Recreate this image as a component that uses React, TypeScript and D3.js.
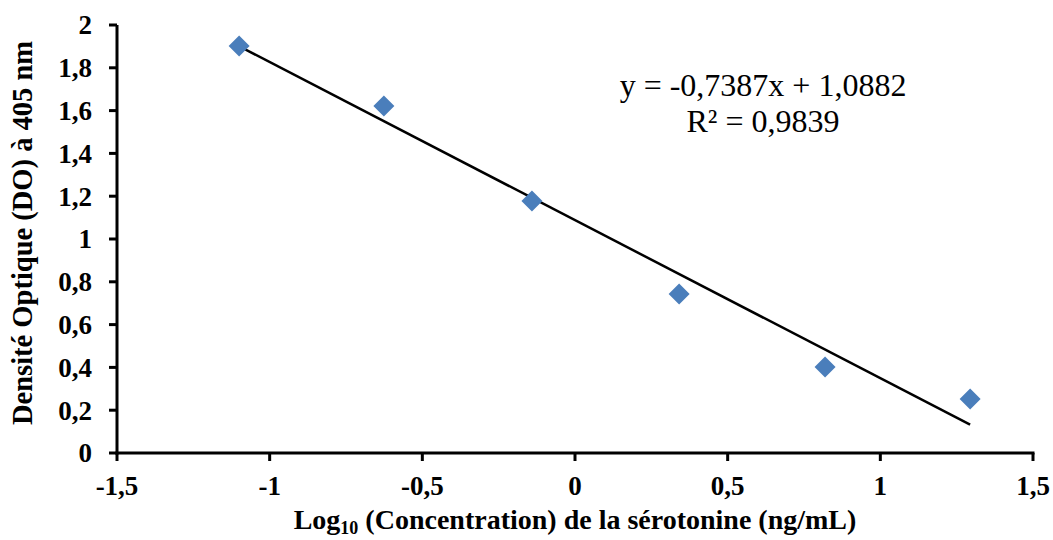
import React from "react";
import * as d3 from "d3";

const xValues = [-1.1, -0.626, -0.141, 0.341, 0.819, 1.294];
const yValues = [1.902, 1.621, 1.178, 0.743, 0.402, 0.252];
const xTicks = [-1.5, -1, -0.5, 0, 0.5, 1, 1.5];
const yTicks = [0, 0.2, 0.4, 0.6, 0.8, 1, 1.2, 1.4, 1.6, 1.8, 2];
const slope = -0.7387;
const intercept = 1.0882;
const equationText = "y = -0,7387x + 1,0882";
const r2Text = "R² = 0,9839";
const xTitleMain = "Log";
const xTitleSub = "10";
const xTitleRest = " (Concentration) de la sérotonine (ng/mL)";
const yTitle = "Densité Optique (DO) à 405 nm";

const fmt = (v: number) => String(v).replace(".", ",");

const font = "'Liberation Serif', 'Times New Roman', serif";
const bold = (size: number): React.CSSProperties => ({ fontFamily: font, fontWeight: 700, fontSize: `${size}px` });
const reg = (size: number): React.CSSProperties => ({ fontFamily: font, fontWeight: 400, fontSize: `${size}px` });

export default function App() {
  const W = 1053, H = 540;
  const x = d3.scaleLinear().domain([-1.5, 1.5]).range([117, 1033]);
  const y = d3.scaleLinear().domain([0, 2]).range([453, 25]);
  const xMin = d3.min(xValues)!, xMax = d3.max(xValues)!;
  const d = 10.5;
  return (
    <svg width={W} height={H} style={{ position: "absolute", left: 0, top: 0, background: "#fff" }}>
      <line x1={x(xMin)} y1={y(slope * xMin + intercept)} x2={x(xMax)} y2={y(slope * xMax + intercept)} stroke="#000" strokeWidth={2.5} />
      {xValues.map((v, i) => {
        const cx = x(v), cy = y(yValues[i]);
        return <path key={i} d={`M${cx},${cy - d}L${cx + d},${cy}L${cx},${cy + d}L${cx - d},${cy}Z`} fill="#4A7EBB" />;
      })}
      <line x1={x(-1.5)} y1={y(2)} x2={x(-1.5)} y2={y(0) + 1.5} stroke="#000" strokeWidth={3} />
      <line x1={x(-1.5) - 1.5} y1={y(0)} x2={x(1.5) + 1.5} y2={y(0)} stroke="#000" strokeWidth={3} />
      {yTicks.map((t) => (
        <g key={t}>
          <line x1={x(-1.5) - 8} x2={x(-1.5)} y1={y(t)} y2={y(t)} stroke="#000" strokeWidth={3} />
          <text x={92} y={y(t)} dy="0.35em" textAnchor="end" style={bold(27)}>{fmt(t)}</text>
        </g>
      ))}
      {xTicks.map((t) => (
        <g key={t}>
          <line x1={x(t)} x2={x(t)} y1={y(0)} y2={y(0) + 8} stroke="#000" strokeWidth={3} />
          <text x={x(t)} y={495} textAnchor="middle" style={bold(27)}>{fmt(t)}</text>
        </g>
      ))}
      <text x={575} y={529} textAnchor="middle" style={bold(28)}>
        {xTitleMain}
        <tspan style={{ fontSize: "18px" }} dy={5}>{xTitleSub}</tspan>
        <tspan dy={-5}>{xTitleRest}</tspan>
      </text>
      <text transform={`translate(32,233) rotate(-90)`} textAnchor="middle" style={bold(28.5)}>{yTitle}</text>
      <text x={763} y={96} textAnchor="middle" style={reg(32)}>{equationText}</text>
      <text x={763} y={132} textAnchor="middle" style={reg(32)}>{r2Text}</text>
    </svg>
  );
}
